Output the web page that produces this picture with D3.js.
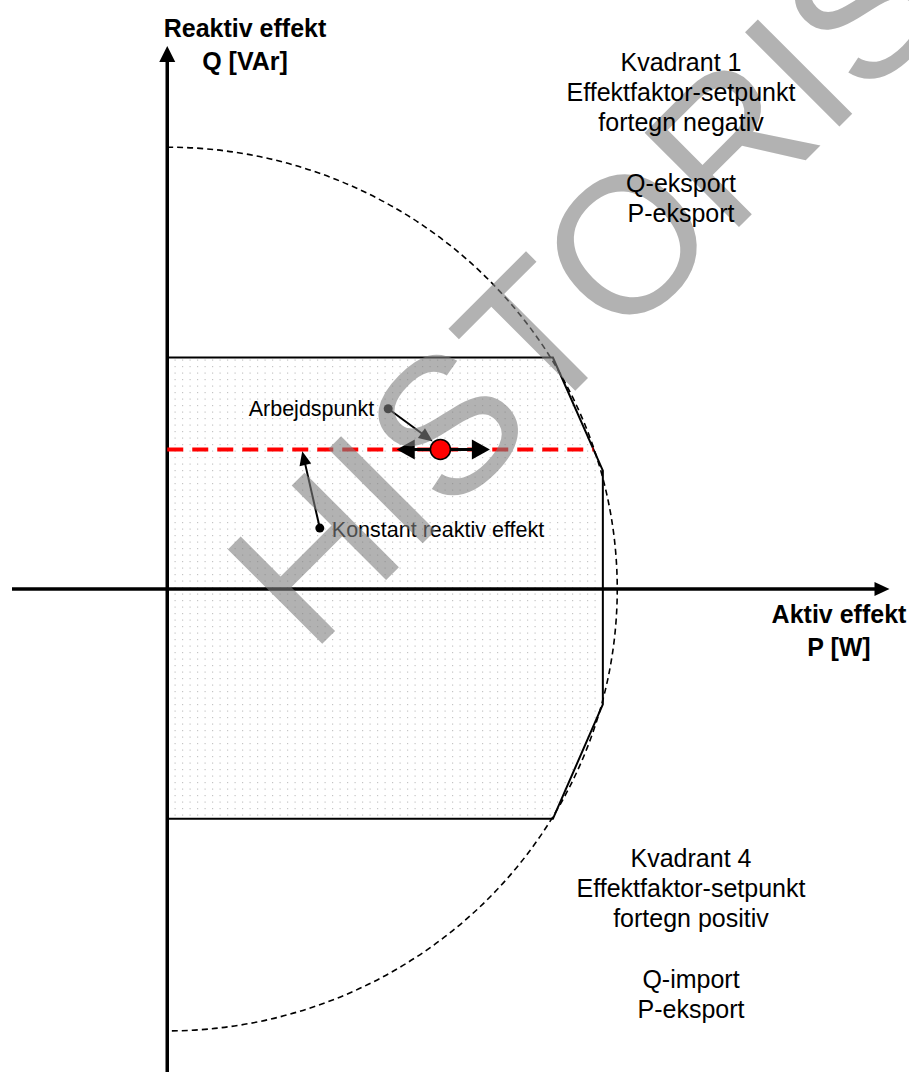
<!DOCTYPE html>
<html>
<head>
<meta charset="utf-8">
<script src="https://cdn.jsdelivr.net/npm/d3@7"></script>
<style>
  body { margin: 0; background: #fff; }
  text { font-family: "Liberation Sans", Arial, sans-serif; }
</style>
</head>
<body>
<div id="chart"></div>
<script>
// Capability area, P and Q in per unit of rated apparent power
var areaP = [0, 0.857, 0.968, 0.968, 0.857, 0]
var areaQ = [0.524, 0.524, 0.268, -0.261, -0.520, -0.520]
var circleRadius = 1

// Operating point and constant Q line
var workP = 0.607, workQ = 0.316
var moveP = [0.51, 0.717]
var lineP = [0, 0.947]

// Leader lines: [dotP, dotQ, tipP, tipQ]
var workLeader = [0.491, 0.408, 0.590, 0.334]
var constLeader = [0.339, 0.138, 0.300, 0.312]

var pDomain = [-0.345, 1.605]
var qDomain = [-1.093, 1.229]

var quad1Lines = ['Kvadrant 1', 'Effektfaktor-setpunkt', 'fortegn negativ', '', 'Q-eksport', 'P-eksport']
var quad4Lines = ['Kvadrant 4', 'Effektfaktor-setpunkt', 'fortegn positiv', '', 'Q-import', 'P-eksport']
var yLabel = ['Reaktiv effekt', 'Q [VAr]']
var xLabel = ['Aktiv effekt', 'P [W]']
var dotCells = [[2, 2], [9.5, 2], [2, 8.5], [9.5, 8.5]]

var width = 909,
    height = 1072

var x = d3.scaleLinear().domain(pDomain).range([12, 889.5])
var y = d3.scaleLinear().domain(qDomain).range([1072, 46])

var svg = d3.select('#chart')
    .append('svg')
    .attr('width', width)
    .attr('height', height)

// dotted fill for the area
var defs = svg.append('defs')
var pat = defs.append('pattern')
    .attr('id', 'dots')
    .attr('patternUnits', 'userSpaceOnUse')
    .attr('width', 15)
    .attr('height', 13);
dotCells.forEach(function(d) {
    pat.append('rect')
        .attr('x', d[0]).attr('y', d[1])
        .attr('width', 1.2).attr('height', 1.2)
        .attr('fill', '#c4c4c4')
})

// triangle head at (x2,y2) pointing from (x1,y1)
var head = function(x1, y1, x2, y2, len, half) {
    var a = Math.atan2(y2 - y1, x2 - x1)
    var bx = x2 - len * Math.cos(a), by = y2 - len * Math.sin(a)
    var nx = -Math.sin(a) * half, ny = Math.cos(a) * half
    return 'M' + x2 + ',' + y2 + 'L' + (bx + nx) + ',' + (by + ny) + 'L' + (bx - nx) + ',' + (by - ny) + 'Z'
}
var arrow = function(g, x1, y1, x2, y2, sw, len, half, both) {
    var a = Math.atan2(y2 - y1, x2 - x1)
    var sx = both ? x1 + (len - 1) * Math.cos(a) : x1,
        sy = both ? y1 + (len - 1) * Math.sin(a) : y1
    g.append('line')
        .attr('x1', sx).attr('y1', sy)
        .attr('x2', x2 - (len - 1) * Math.cos(a)).attr('y2', y2 - (len - 1) * Math.sin(a))
        .attr('stroke', '#000').attr('stroke-width', sw)
    g.append('path').attr('d', head(x1, y1, x2, y2, len, half)).attr('fill', '#000')
    if (both) g.append('path').attr('d', head(x2, y2, x1, y1, len, half)).attr('fill', '#000')
}

// area polygon
var poly = areaP.map(function(p, i) { return [x(p), y(areaQ[i])] })
svg.append('path')
    .attr('d', d3.line()(poly) + 'Z')
    .attr('fill', 'url(#dots)')
    .attr('stroke', '#000')
    .attr('stroke-width', 2)

// dashed rated circle, right half only
var rx = x(circleRadius) - x(0),
    ry = y(0) - y(circleRadius)
svg.append('path')
    .attr('d', 'M' + x(0) + ',' + y(circleRadius) +
        'A' + rx + ',' + ry + ' 0 0 1 ' + x(0) + ',' + y(-circleRadius))
    .attr('fill', 'none')
    .attr('stroke', '#000')
    .attr('stroke-width', 1.6)
    .attr('stroke-dasharray', '6,4')

// axes
var axes = svg.append('g')
arrow(axes, x(pDomain[0]), y(0), x(pDomain[1]), y(0), 3.5, 15, 7, false)
arrow(axes, x(0), y(qDomain[0]), x(0), y(qDomain[1]), 3.5, 16, 8, false)

// constant Q line
svg.append('line')
    .attr('x1', x(lineP[0])).attr('x2', x(lineP[1]))
    .attr('y1', y(workQ)).attr('y2', y(workQ))
    .attr('stroke', '#ff0000')
    .attr('stroke-width', 4)
    .attr('stroke-dasharray', '16,9')

// movement arrows and operating point
arrow(svg, x(moveP[0]), y(workQ), x(moveP[1]), y(workQ), 3, 18, 10, true)
svg.append('circle')
    .attr('cx', x(workP)).attr('cy', y(workQ))
    .attr('r', 10)
    .attr('fill', '#ff0000')
    .attr('stroke', '#000')
    .attr('stroke-width', 1.5)

// leaders
var leaders = [
    { d: workLeader, text: 'Arbejdspunkt', anchor: 'end', dx: -14, dy: 7 },
    { d: constLeader, text: 'Konstant reaktiv effekt', anchor: 'start', dx: 12, dy: 9 }
]
leaders.forEach(function(l) {
    var x1 = x(l.d[0]), y1 = y(l.d[1]), x2 = x(l.d[2]), y2 = y(l.d[3])
    arrow(svg, x1, y1, x2, y2, 2, 14, 6, false)
    svg.append('circle').attr('cx', x1).attr('cy', y1).attr('r', 4.5).attr('fill', '#000')
    svg.append('text')
        .attr('x', x1 + l.dx).attr('y', y1 + l.dy)
        .attr('text-anchor', l.anchor)
        .attr('font-size', 21.5)
        .text(l.text)
})

// axis titles
svg.selectAll('.ylab').data(yLabel).enter().append('text')
    .attr('x', 245).attr('y', function(d, i) { return 37 + i * 33 })
    .attr('text-anchor', 'middle').attr('font-size', 25).attr('font-weight', 'bold')
    .text(function(d) { return d })
svg.selectAll('.xlab').data(xLabel).enter().append('text')
    .attr('x', 839).attr('y', function(d, i) { return 623 + i * 33 })
    .attr('text-anchor', 'middle').attr('font-size', 25).attr('font-weight', 'bold')
    .text(function(d) { return d })

// watermark
svg.append('text')
    .attr('transform', 'translate(311,655) rotate(-45)')
    .attr('font-size', 194)
    .attr('fill', '#7f7f7f')
    .attr('opacity', 0.6)
    .text('HISTORISK')

// quadrant notes
var note = function(lines, cx, top) {
    var yy = top
    lines.forEach(function(t, i) {
        if (t !== '') {
            svg.append('text')
                .attr('x', cx).attr('y', yy)
                .attr('text-anchor', 'middle').attr('font-size', 25)
                .text(t)
        }
        yy += (i === 3) ? 31 : 30
    })
}
note(quad1Lines, 681, 71)
note(quad4Lines, 691, 867)
</script>
</body>
</html>
